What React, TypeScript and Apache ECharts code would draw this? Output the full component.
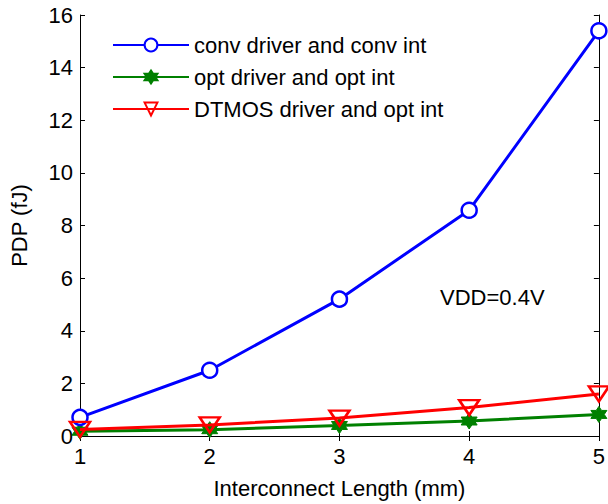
import React, { useEffect, useRef } from "react";
import * as echarts from "echarts";

const lengths = [1, 2, 3, 4, 5];
const convDriver = [0.71, 2.5, 5.2, 8.58, 15.4];
const optDriver = [0.18, 0.24, 0.4, 0.57, 0.82];
const dtmosDriver = [0.25, 0.42, 0.68, 1.08, 1.6];
const seriesNames = ["conv driver and conv int", "opt driver and opt int", "DTMOS driver and opt int"];

const FONT = "Liberation Sans, Arial, sans-serif";
const FS = 22;
const hexagram =
  "path://M0,-10 L2.9,-5 L8.66,-5 L5.8,0 L8.66,5 L2.9,5 L0,10 L-2.9,5 L-8.66,5 L-5.8,0 L-8.66,-5 L-2.9,-5 Z";
const triDown = "path://M-10,-7 L10,-7 L0,8 Z";

export default function App() {
  const ref = useRef<HTMLDivElement>(null);
  useEffect(() => {
    if (!ref.current) return;
    const chart = echarts.init(ref.current, null, { renderer: "svg" });
    const pairs = (ys: number[]) => lengths.map((x, i) => [x, ys[i]]);
    const axisCommon = {
      axisLine: { show: true, lineStyle: { color: "#000", width: 1 } },
      axisTick: { show: true, inside: true, length: 5, lineStyle: { color: "#000" } },
      splitLine: { show: false },
    };
    chart.setOption({
      animation: false,
      backgroundColor: "#fff",
      textStyle: { fontFamily: FONT },
      grid: { left: 80, right: 7, top: 15, bottom: 62 },
      legend: {
        orient: "vertical",
        left: 112,
        top: 34,
        padding: 0,
        itemWidth: 76,
        itemHeight: 16,
        itemGap: 10,
        textStyle: { fontFamily: FONT, fontSize: FS, color: "#000" },
        data: seriesNames,
      },
      xAxis: [
        {
          type: "value",
          min: 1,
          max: 5,
          interval: 1,
          ...axisCommon,
          axisLabel: { color: "#000", fontSize: FS, fontFamily: FONT, margin: 9 },
          name: "Interconnect Length (mm)",
          nameLocation: "middle",
          nameGap: 41,
          nameTextStyle: { color: "#000", fontSize: FS, fontFamily: FONT },
        },
        {
          type: "value",
          position: "top",
          min: 1,
          max: 5,
          interval: 1,
          ...axisCommon,
          axisLabel: { show: false },
        },
      ],
      yAxis: [
        {
          type: "value",
          min: 0,
          max: 16,
          interval: 2,
          ...axisCommon,
          axisLabel: { color: "#000", fontSize: FS, fontFamily: FONT, margin: 7 },
          name: "PDP (fJ)",
          nameLocation: "middle",
          nameGap: 50,
          nameTextStyle: { color: "#000", fontSize: FS, fontFamily: FONT },
        },
        {
          type: "value",
          position: "right",
          min: 0,
          max: 16,
          interval: 2,
          ...axisCommon,
          axisLabel: { show: false },
        },
      ],
      graphic: [
        {
          type: "text",
          left: 440,
          top: 286,
          style: { text: "VDD=0.4V", fontSize: FS, fontFamily: FONT, fill: "#000" },
        },
      ],
      series: [
        {
          name: seriesNames[0],
          type: "line",
          data: pairs(convDriver),
          symbol: "circle",
          symbolSize: 15,
          lineStyle: { color: "#0000ff", width: 3 },
          itemStyle: { color: "#fff", borderColor: "#0000ff", borderWidth: 2.5 },
          color: "#0000ff",
          z: 3,
        },
        {
          name: seriesNames[1],
          type: "line",
          data: pairs(optDriver),
          symbol: hexagram,
          symbolSize: 16,
          lineStyle: { color: "#008000", width: 3 },
          itemStyle: { color: "#008000", borderColor: "#008000", borderWidth: 1 },
          color: "#008000",
          z: 2,
        },
        {
          name: seriesNames[2],
          type: "line",
          data: pairs(dtmosDriver),
          symbol: triDown,
          symbolSize: [20, 15],
          lineStyle: { color: "#ff0000", width: 3 },
          itemStyle: { color: "rgba(255,255,255,0)", borderColor: "#ff0000", borderWidth: 2.5 },
          color: "#ff0000",
          z: 4,
        },
      ],
    });
    return () => chart.dispose();
  }, []);
  return <div ref={ref} style={{ width: 608, height: 504, position: "absolute", left: 0, top: 0 }} />;
}
